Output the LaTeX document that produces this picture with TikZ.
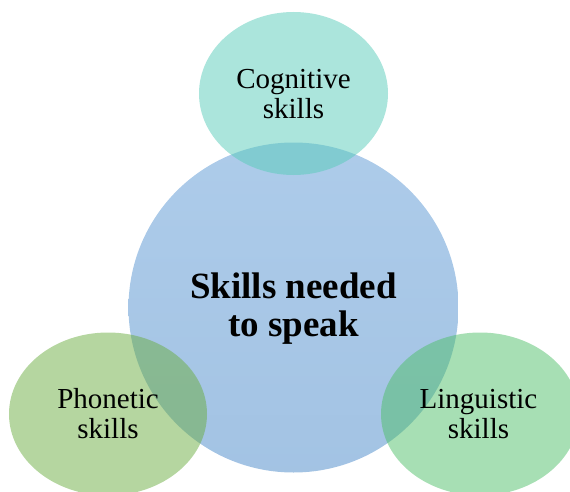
\documentclass[tikz,border=0pt]{standalone}
\usepackage{fontspec}
\setmainfont{Liberation Serif}
\definecolor{cmain}{RGB}{166,199,232}
\definecolor{ctop}{RGB}{87,203,185}
\definecolor{cleft}{RGB}{107,173,65}
\definecolor{cright}{RGB}{79,191,105}
\begin{document}
\begin{tikzpicture}[x=1pt,y=1pt,
  sat/.style={fill opacity=0.5,text opacity=1,align=center,font=\fontsize{29}{30}\selectfont},
  hub/.style={align=center,font=\bfseries\fontsize{37}{38}\selectfont}]
\useasboundingbox (0,0) rectangle (570,491);
\begin{scope}
\clip (0,0) rectangle (570,491);
\shade[top color=cmain!92!white, bottom color=cmain!98!black] (293.5,183.5) circle (165);
\fill[ctop, fill opacity=0.5] (293.5,397.5) ellipse (94.5 and 81.5);
\fill[cleft, fill opacity=0.5] (108,77) ellipse (99 and 81.5);
\fill[cright, fill opacity=0.5] (480,77) ellipse (99 and 81.5);
\end{scope}
\node[hub] (hub) at (293.5,182) {Skills needed\\to speak};
\node[sat] (cog) at (293.5,397) {Cognitive\\skills};
\node[sat] (pho) at (108,77) {Phonetic\\skills};
\node[sat] (lin) at (478.5,77) {Linguistic\\skills};
\end{tikzpicture}
\end{document}
